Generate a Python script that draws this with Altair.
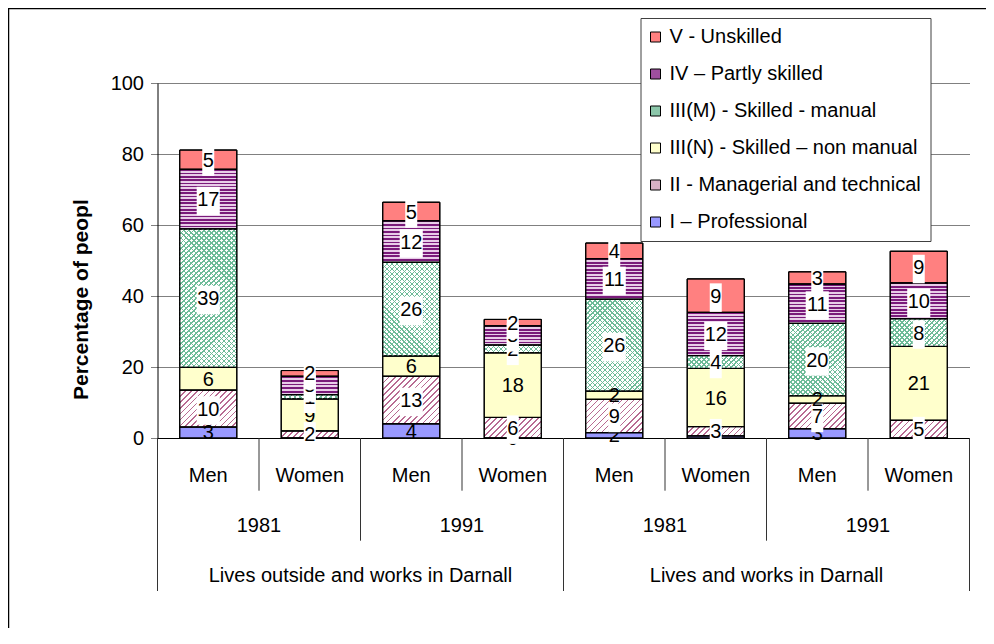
import altair as alt

# ---------------- data ----------------
bar_sex = ["Men", "Women", "Men", "Women", "Men", "Women", "Men", "Women"]
years = ["1981", "1991", "1981", "1991"]
groups = ["Lives outside and works in Darnall", "Lives and works in Darnall"]

# stack order, bottom -> top
categories = [
    "I – Professional",
    "II - Managerial and technical",
    "III(N) - Skilled – non manual",
    "III(M) - Skilled - manual",
    "IV – Partly skilled",
    "V - Unskilled",
]
professional = [3.1, 0.0, 4.0, 0.0, 1.5, 0.6, 2.6, 0.0]
managerial = [10.4, 2.0, 13.4, 5.8, 9.4, 2.6, 7.2, 5.0]
skilled_nonmanual = [6.4, 9.0, 5.7, 18.2, 2.3, 16.4, 2.1, 20.8]
skilled_manual = [39.0, 1.2, 26.4, 2.2, 25.9, 3.6, 20.4, 7.8]
partly_skilled = [16.8, 5.2, 11.7, 5.4, 11.4, 12.2, 11.1, 10.1]
unskilled = [5.4, 1.6, 5.2, 1.8, 4.4, 9.4, 3.4, 8.9]

y_ticks = [0, 20, 40, 60, 80, 100]
y_title = "Percentage of people"

# ---------------- layout / style ----------------
FONT = "Liberation Sans"
W, H = 812, 355
PX = H / 100.0
BAR = 57

solid = {
    categories[0]: "#9999FF",
    categories[1]: "#D9AFC4",
    categories[2]: "#FFFFCC",
    categories[3]: "#8CC7AA",
    categories[4]: "#9E4F9E",
    categories[5]: "#FF8080",
}
boxed = {categories[1], categories[3], categories[4], categories[5]}


def stripes(n, c1, c2, frac):
    stops = []
    for i in range(n):
        a = round(i / n, 5)
        b = round((i + frac) / n, 5)
        e = round((i + 1) / n, 5)
        stops += [{"offset": a, "color": c1}, {"offset": b, "color": c1},
                  {"offset": b, "color": c2}, {"offset": e, "color": c2}]
    return stops


def horiz(h, c1, c2, period, frac):
    n = max(1, round(h / period))
    return {"gradient": "linear", "x1": 0, "y1": 0, "x2": 0, "y2": 1,
            "stops": stripes(n, c1, c2, frac)}


def diag_up(h, w, c1, c2, period, frac):
    k = (w + h) / (w * w + h * h)
    n = max(1, round((w + h) / period))
    return {"gradient": "linear", "x1": 0, "y1": 0, "x2": round(w * k, 5),
            "y2": round(h * k, 5), "stops": stripes(n, c1, c2, frac)}


def diag_down(h, w, c1, c2, period, frac):
    k = (w + h) / (w * w + h * h)
    n = max(1, round((w + h) / period))
    return {"gradient": "linear", "x1": 0, "y1": 1, "x2": round(w * k, 5),
            "y2": round(1 - h * k, 5), "stops": stripes(n, c1, c2, frac)}


series = [professional, managerial, skilled_nonmanual, skilled_manual,
          partly_skilled, unskilled]

records = []
for i in range(len(bar_sex)):
    cum = 0.0
    for r, (cat, vals) in enumerate(zip(categories, series)):
        v = vals[i]
        h = v * PX
        lab = str(int(round(v)))
        p1 = solid[cat]
        p2 = "transparent"
        if h > 0.5:
            if r == 1:
                p1 = diag_up(h, BAR, "#B86A92", "#FFFFFF", 6.0, 0.28)
            elif r == 3:
                p1 = diag_up(h, BAR, "#6DBB98", "#FFFFFF", 5.0, 0.26)
                p2 = diag_down(h, BAR, "#6DBB98", "rgba(255,255,255,0)", 5.0, 0.26)
            elif r == 4:
                p1 = horiz(h, "#7A1A7A", "#E8CDE8", 3.4, 0.5)
        records.append(dict(xpos=i + 0.5, cat=cat, rank=r, y0=cum, y1=cum + v,
                            mid=cum + v / 2, label=lab, nd=str(len(lab)),
                            pat1=p1, pat2=p2))
        cum += v

bar_data = alt.Data(values=records)

xs = alt.Scale(domain=[0, 8], nice=False, zero=False, padding=0)
ys = alt.Scale(domain=[0, 100], nice=False, padding=0)
x_axis = alt.Axis(labels=False, ticks=False, grid=False, domain=True,
                  domainColor="black", domainWidth=1, title=None)
y_axis = alt.Axis(values=y_ticks, labelFontSize=20, labelFont=FONT,
                  labelColor="black", tickSize=7, tickColor="#808080",
                  gridColor="#808080", grid=True, domainColor="black",
                  labelPadding=7, title=None)


def X(f):
    return alt.X(f, type="quantitative", scale=xs, axis=x_axis)


def Y(f):
    return alt.Y(f, type="quantitative", scale=ys, axis=y_axis)


# border of the whole chart
border = alt.Chart(alt.Data(values=[{"b": 1}])).mark_rect(
    fill="transparent", stroke="black", strokeWidth=1.5
).encode(x=alt.value(-149), x2=alt.value(W + 60),
         y=alt.value(-74.5), y2=alt.value(H + 260))

legend = alt.Legend(
    orient="none", legendX=483, legendY=-65, title=None,
    labelFontSize=20, labelFont=FONT, labelColor="black", labelLimit=400,
    symbolType="square", symbolSize=100, symbolStrokeColor="black",
    symbolStrokeWidth=1, rowPadding=17, padding=9, labelOffset=4,
    symbolOffset=-4,
    fillColor="white", strokeColor="#404040",
)

bars_solid = alt.Chart(bar_data).mark_bar(size=BAR, stroke="black", strokeWidth=1).encode(
    x=X("xpos"), y=Y("y0"), y2="y1",
    color=alt.Color("cat:N", scale=alt.Scale(domain=categories[::-1],
                                             range=[solid[c] for c in categories[::-1]]),
                    legend=legend),
)
bars_p1 = alt.Chart(bar_data).mark_bar(size=BAR, stroke="black", strokeWidth=1).encode(
    x=X("xpos"), y=Y("y0"), y2="y1",
    fill=alt.Fill("pat1:N", scale=None, legend=None),
)
bars_p2 = alt.Chart(bar_data).mark_bar(size=BAR, stroke="black", strokeWidth=1).encode(
    x=X("xpos"), y=Y("y0"), y2="y1",
    fill=alt.Fill("pat2:N", scale=None, legend=None),
)

# dividers of the multi-level category axis
div_records = [{"bx": k, "lvl": 3 if k % 4 == 0 else (2 if k % 2 == 0 else 1)}
               for k in range(9)]
div_len = {1: 52.7, 2: 102.7, 3: 153}
dividers = []
for lvl in (1, 2, 3):
    dividers.append(
        alt.Chart(alt.Data(values=div_records)).transform_filter(
            alt.FieldEqualPredicate(field="lvl", equal=lvl)
        ).mark_rule(color="#333333", strokeWidth=1).encode(
            x=X("bx"), y=alt.value(H), y2=alt.value(H + div_len[lvl])
        )
    )

sex_text = alt.Chart(alt.Data(values=[{"xpos": i + 0.5, "t": s} for i, s in enumerate(bar_sex)])).mark_text(
    fontSize=20, font=FONT, baseline="alphabetic", color="black"
).encode(x=X("xpos"), y=alt.value(398.7), text="t:N")

year_text = alt.Chart(alt.Data(values=[{"xpos": 2 * j + 1, "t": y} for j, y in enumerate(years)])).mark_text(
    fontSize=20, font=FONT, baseline="alphabetic", color="black"
).encode(x=X("xpos"), y=alt.value(448.7), text="t:N")

group_text = alt.Chart(alt.Data(values=[{"xpos": 4 * g + 2, "t": t} for g, t in enumerate(groups)])).mark_text(
    fontSize=20, font=FONT, baseline="alphabetic", color="black"
).encode(x=X("xpos"), y=alt.value(498.7), text="t:N")

title_text = alt.Chart(alt.Data(values=[{"t": y_title}])).mark_text(
    angle=270, fontSize=21, fontWeight="bold", font=FONT, align="left",
    baseline="middle", limit=207, ellipsis="\u200b", color="black"
).encode(x=alt.value(-75.5), y=alt.value(317), text="t:N")

box_shape = alt.Shape(
    "nd:N",
    scale=alt.Scale(domain=["1", "2"],
                    range=["M-0.4,-0.82H0.4V1.08H-0.4Z",
                           "M-0.77,-0.82H0.77V1.08H-0.77Z"]),
    legend=None,
)

label_layers = []
for c in categories:
    src = alt.Chart(bar_data).transform_filter(
        alt.FieldEqualPredicate(field="cat", equal=c))
    if c in boxed:
        label_layers.append(
            src.mark_point(filled=True, fill="white", opacity=1, strokeOpacity=0, size=900)
            .encode(x=X("xpos"), y=Y("mid"), shape=box_shape)
        )
    label_layers.append(
        src.mark_text(fontSize=20, font=FONT, baseline="alphabetic", dy=7, color="black")
        .encode(x=X("xpos"), y=Y("mid"), text="label:N")
    )

chart = alt.layer(
    border, bars_solid, bars_p1, bars_p2, *dividers,
    sex_text, year_text, group_text, title_text, *label_layers
).properties(
    width=W, height=H,
    padding={"left": 149.5, "top": 75, "right": 16, "bottom": 190},
    autosize=alt.AutoSizeParams(type="none"),
    background="white",
).configure_view(stroke="transparent").configure_axis(labelFont=FONT)

chart.save("out.html", embed_options={"renderer": "svg", "actions": False})
